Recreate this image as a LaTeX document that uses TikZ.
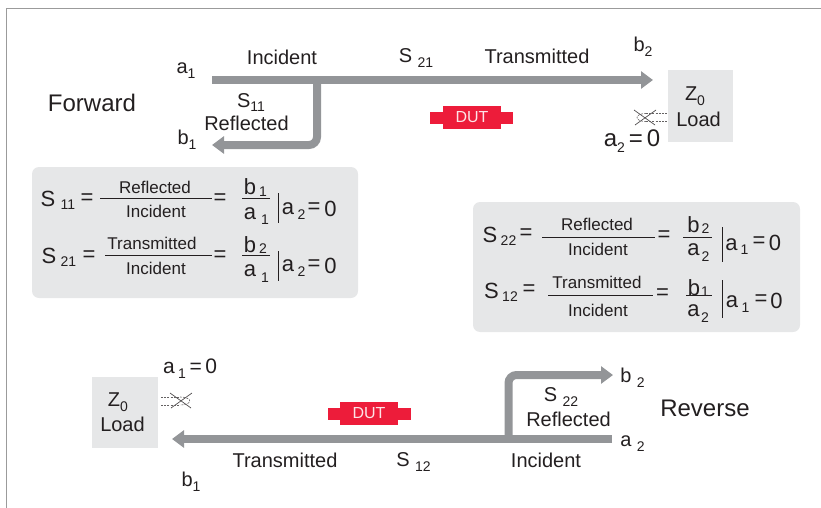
\documentclass[tikz,border=0pt]{standalone}
\usepackage{fontspec}
\setmainfont{Liberation Sans}
\usetikzlibrary{arrows.meta}
\definecolor{arrgray}{HTML}{939598}
\definecolor{boxgray}{HTML}{E6E7E8}
\definecolor{dutred}{HTML}{ED1C3A}
\definecolor{txt}{HTML}{231F20}
\definecolor{framegray}{HTML}{9B9B9B}
\newcommand\mysub[1]{\raisebox{-0.24em}{\fontsize{14}{16}\selectfont #1}}
\begin{document}
\begin{tikzpicture}[x=1pt,y=-1pt,
  lbl/.style={inner sep=0pt, text=txt, font=\fontsize{20}{24}\selectfont},
  big/.style={inner sep=0pt, text=txt, font=\fontsize{24}{28}\selectfont},
  eq/.style={inner sep=0pt, text=txt, font=\fontsize{22}{24}\selectfont},
  eqsub/.style={inner sep=0pt, text=txt, font=\fontsize{14}{16}\selectfont},
  eqt/.style={inner sep=0pt, text=txt, font=\fontsize{17}{20}\selectfont},
  sarrow/.style={draw=arrgray, line width=8pt, -{Triangle[length=12pt,width=17pt]}},
  fbar/.style={draw=txt, line width=0.9pt},
  eqbox/.style={fill=boxgray, rounded corners=7pt, inner sep=0pt},
  loadbox/.style={fill=boxgray, inner sep=0pt},
  dutbody/.style={fill=dutred, inner sep=0pt, minimum width=58pt, minimum height=23pt,
    text=white!88!dutred, font=\fontsize{16}{18}\selectfont},
  crossl/.style={draw=txt!80, line width=0.7pt},
  dashl/.style={draw=txt!70, line width=0.6pt, dash pattern=on 2pt off 1.2pt}
]
\useasboundingbox (0,0) rectangle (821,508);
% frame
\draw[framegray, line width=1.4pt] (6.5,508) -- (6.5,8.5) -- (821,8.5);

% ---------- Forward ----------
\coordinate (fA) at (212,80);
\coordinate (fB) at (653,80);
\coordinate (fJ) at (317,77);
\coordinate (fC) at (317,145);
\coordinate (fD) at (212,145);
\draw[sarrow] (fA) -- (fB);
\draw[sarrow, rounded corners=8pt] (fJ) -- (fC) -- (fD);

\node[lbl] (a1t) at (186,71) {a\mysub{1}};
\node[lbl] (b1t) at (187,140) {b\mysub{1}};
\node[big] (fwd) at (92,103) {Forward};
\node[lbl] (inct) at (282,57) {Incident};
\node[lbl] (s11t) at (251,102.5) {S\mysub{11}};
\node[lbl] (reft) at (246.5,123) {Reflected};
\node[lbl] (s21t) at (416,58) {S \mysub{21}};
\node[lbl] (trat) at (537,56.5) {Transmitted};
\node[lbl] (b2t) at (643,47) {b\mysub{2}};

% DUT top
\fill[dutred] (430,112) rectangle (513,124);
\node[dutbody] (dut1) at (472,117.5) {DUT};

% Load top
\node[loadbox, minimum width=65pt, minimum height=72pt] (load1) at (700.5,106) {};
\node[lbl] (z0t) at (695,96) {Z\mysub{0}};
\node[lbl] (loadt) at (698.5,119) {Load};
\node[inner sep=0pt, text=txt, font=\fontsize{24}{28}\selectfont] (a20t) at (632,141) {a\mysub{2}\,=\,0};
% open symbol top
\draw[crossl] (634,110) -- (655,125);
\draw[crossl] (635,125) -- (656,110);
\draw[dashl] (646,113.5) -- (667,113.5);
\draw[dashl] (646,121.5) -- (667,121.5);
\draw[dashl] (646,113.5) .. controls (634,113.5) and (634,121.5) .. (646,121.5);

% ---------- Equation box 1 ----------
\node[eqbox, minimum width=326pt, minimum height=131pt] (box1) at (195,232.5) {};
% row 1
\node[eq] (e1S) at (48,199) {S};
\node[eqsub] (e1Ss) at (68,205) {11};
\node[eq] (e1q) at (87,199) {=};
\draw[fbar] (100,198) -- (212,198);
\node[eqt] (e1n) at (155,187) {Reflected};
\node[eqt] (e1d) at (156,211) {Incident};
\node[eq] (e1q2) at (220,199) {=};
\node[eq] (e1b) at (250,187) {b};
\node[eqsub] (e1bs) at (263,191.5) {1};
\draw[fbar] (242,198) -- (270,198);
\node[eq] (e1a) at (250,213.5) {a};
\node[eqsub] (e1as) at (265,220) {1};
\draw[fbar] (278,193) -- (278,223);
\node[eq] (e1c) at (288,209) {a};
\node[eqsub] (e1cs) at (301.5,215) {2};
\node[eq] (e1ce) at (314,208) {=};
\node[eq] (e1c0) at (330.5,208.5) {0};
% row 2
\node[eq] (e2S) at (49,256) {S};
\node[eqsub] (e2Ss) at (68.5,262) {21};
\node[eq] (e2q) at (89,256) {=};
\draw[fbar] (105,255) -- (212,255);
\node[eqt] (e2n) at (152,243.5) {Transmitted};
\node[eqt] (e2d) at (156,268) {Incident};
\node[eq] (e2q2) at (220,256) {=};
\node[eq] (e2b) at (250,244.5) {b};
\node[eqsub] (e2bs) at (263,249) {2};
\draw[fbar] (242,255) -- (270,255);
\node[eq] (e2a) at (250,271) {a};
\node[eqsub] (e2as) at (265,277.5) {1};
\draw[fbar] (278,251) -- (278,281);
\node[eq] (e2c) at (288,266) {a};
\node[eqsub] (e2cs) at (301.5,272) {2};
\node[eq] (e2ce) at (314,265) {=};
\node[eq] (e2c0) at (330.5,266) {0};

% ---------- Equation box 2 ----------
\node[eqbox, minimum width=327pt, minimum height=130pt] (box2) at (636.5,267) {};
% row 1
\node[eq] (f1S) at (490,234.5) {S};
\node[eqsub] (f1Ss) at (508.5,241) {22};
\node[eq] (f1q) at (526,234) {=};
\draw[fbar] (542,237) -- (655,237);
\node[eqt] (f1n) at (597,224.5) {Reflected};
\node[eqt] (f1d) at (598,249.5) {Incident};
\node[eq] (f1q2) at (664,236) {=};
\node[eq] (f1b) at (693.5,224.5) {b};
\node[eqsub] (f1bs) at (705.5,228.5) {2};
\draw[fbar] (683,237) -- (712,237);
\node[eq] (f1a) at (693.5,250) {a};
\node[eqsub] (f1as) at (705.5,257) {2};
\draw[fbar] (722,227) -- (722,262);
\node[eq] (f1c) at (731.5,244.5) {a};
\node[eqsub] (f1cs) at (744.5,250) {1};
\node[eq] (f1ce) at (759,242.5) {=};
\node[eq] (f1c0) at (775,242.5) {0};
% row 2
\node[eq] (f2S) at (491.5,290.5) {S};
\node[eqsub] (f2Ss) at (510,297) {12};
\node[eq] (f2q) at (529,290) {=};
\draw[fbar] (548,295) -- (653,295);
\node[eqt] (f2n) at (597,282) {Transmitted};
\node[eqt] (f2d) at (598,310) {Incident};
\node[eq] (f2q2) at (662.5,294) {=};
\node[eq] (f2b) at (694,287.5) {b};
\node[eqsub] (f2bs) at (705,292) {1};
\draw[fbar] (686,295) -- (712,295);
\node[eq] (f2a) at (693.5,310.5) {a};
\node[eqsub] (f2as) at (705,317.5) {2};
\draw[fbar] (722,280) -- (722,318);
\node[eq] (f2c) at (732,302) {a};
\node[eqsub] (f2cs) at (745.5,307.5) {1};
\node[eq] (f2ce) at (761,300.5) {=};
\node[eq] (f2c0) at (776.5,301) {0};

% ---------- Reverse ----------
\coordinate (rA) at (612,439);
\coordinate (rB) at (172,439);
\coordinate (rJ) at (508.5,442);
\coordinate (rC) at (508.5,375);
\coordinate (rD) at (613,375);
\draw[sarrow] (rA) -- (rB);
\draw[sarrow, rounded corners=8pt] (rJ) -- (rC) -- (rD);

\node[lbl] (b2b) at (632.5,377.5) {b \mysub{2}};
\node[lbl] (a2b) at (632.5,444) {a \mysub{2}};
\node[lbl] (s22b) at (561,397) {S \mysub{22}};
\node[lbl] (refb) at (568.5,419.5) {Reflected};
\node[big] (rev) at (705,408) {Reverse};
\node[lbl] (incb) at (546,460) {Incident};
\node[lbl] (s12b) at (413.5,462) {S \mysub{12}};
\node[lbl] (trab) at (285,460) {Transmitted};
\node[lbl] (b1b) at (191,481.5) {b\mysub{1}};

% DUT bottom
\fill[dutred] (328,408) rectangle (411,420);
\node[dutbody] (dut2) at (369,413.5) {DUT};

% Load bottom
\node[loadbox, minimum width=66pt, minimum height=71pt] (load2) at (125,412.5) {};
\node[lbl] (z0b) at (118,402.5) {Z\mysub{0}};
\node[lbl] (loadb) at (122.5,424) {Load};
\node[inner sep=0pt, text=txt, font=\fontsize{21}{24}\selectfont] (a10b) at (190,369) {a\,\mysub{1}\,=\,0};
% open symbol bottom
\draw[crossl] (170,393) -- (191,408);
\draw[crossl] (171,408) -- (192,393);
\draw[dashl] (161,397) -- (180,397);
\draw[dashl] (161,405) -- (180,405);
\draw[dashl] (180,397) .. controls (193,397) and (193,405) .. (180,405);
\end{tikzpicture}
\end{document}
